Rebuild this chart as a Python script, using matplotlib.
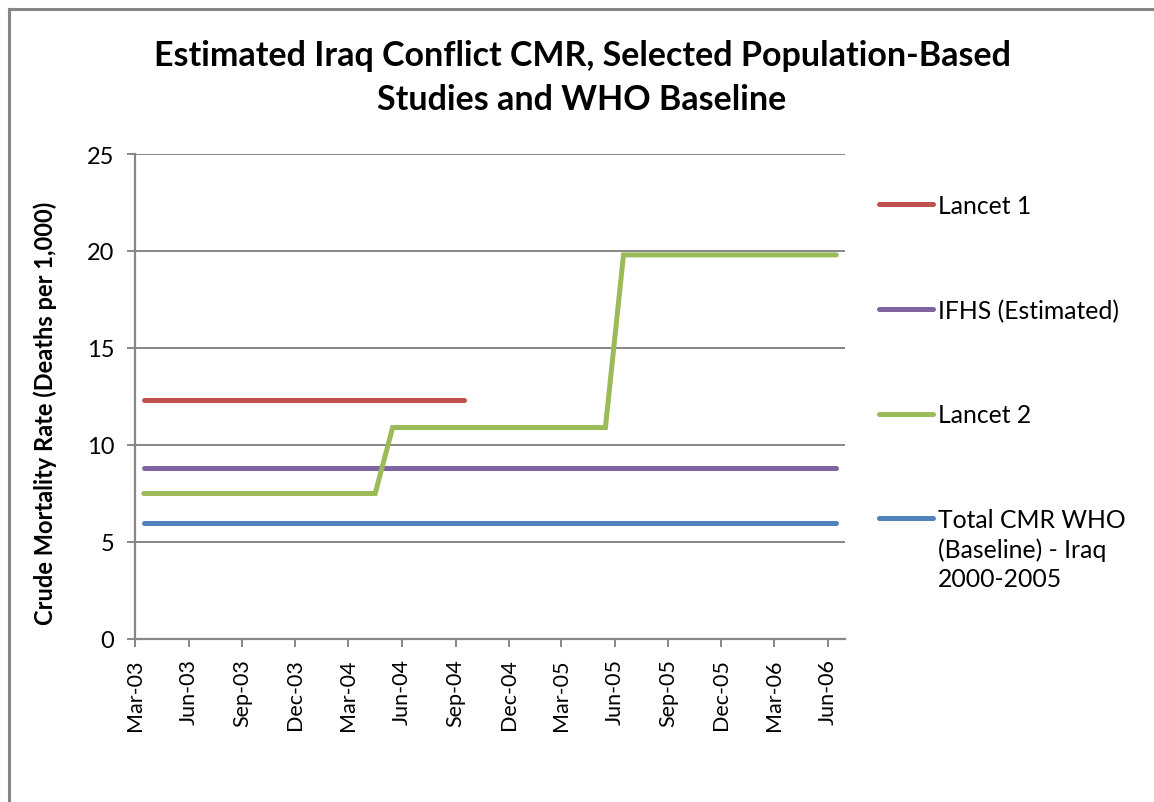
import matplotlib.pyplot as plt
import matplotlib.dates as mdates
import numpy as np
import pandas as pd
from matplotlib.lines import Line2D
from matplotlib.legend_handler import HandlerLine2D

plt.rcParams['font.family'] = ['Lato', 'DejaVu Sans']

# Monthly series, Mar-2003 .. Jun-2006 (plotted mid-month)
months = pd.date_range('2003-03-01', '2006-06-01', freq='MS') + pd.Timedelta(days=15)

lancet1_months = months[:19]                      # Mar-03 .. Sep-04
lancet1 = [12.3] * 19
ifhs = [8.8] * 40
lancet2 = [7.5] * 14 + [10.9] * 13 + [19.8] * 13  # Mar-03..Apr-04, May-04..May-05, Jun-05..Jun-06
who_baseline = [6.0] * 40

labels = ['Lancet 1', 'IFHS (Estimated)', 'Lancet 2',
          'Total CMR WHO\n(Baseline) - Iraq\n2000-2005']
colors = ['#C0504D', '#8064A2', '#9BBB59', '#4F81BD']

fig = plt.figure(figsize=(11.54, 8.03), dpi=100)
ax = fig.add_axes([135 / 1154, 1 - 640 / 803, 710 / 1154, 485 / 803])

lw = 3.6
l1, = ax.plot(lancet1_months, lancet1, color=colors[0], lw=lw, solid_capstyle='round', zorder=3)
l2, = ax.plot(months, ifhs, color=colors[1], lw=lw, solid_capstyle='round', zorder=3)
l3, = ax.plot(months, lancet2, color=colors[2], lw=lw, solid_capstyle='round',
              solid_joinstyle='miter', zorder=3)
l4, = ax.plot(months, who_baseline, color=colors[3], lw=lw, solid_capstyle='round', zorder=3)

ax.set_xlim(pd.Timestamp('2003-03-01'), pd.Timestamp('2006-07-01'))
ax.set_ylim(0, 25)
ax.set_yticks(np.arange(0, 26, 5))
ax.xaxis.set_major_locator(mdates.MonthLocator(bymonth=[3, 6, 9, 12]))
ax.xaxis.set_major_formatter(mdates.DateFormatter('%b-%y'))
ax.set_xticks([t for t in ax.get_xticks() if t <= mdates.date2num(pd.Timestamp('2006-06-01'))])

grid_c = '#868686'
ax.grid(axis='y', color=grid_c, lw=1.4)
ax.set_axisbelow(True)
for s in ['top', 'right']:
    ax.spines[s].set_visible(False)
for s in ['left', 'bottom']:
    ax.spines[s].set_color(grid_c)
    ax.spines[s].set_linewidth(1.6)
ax.tick_params(axis='both', colors=grid_c, length=6, width=1.4, labelcolor='black',
               labelsize=15.5)
ax.tick_params(axis='y', labelsize=17, pad=9)
ax.tick_params(axis='x', pad=8)
plt.setp(ax.get_xticklabels(), rotation=90, va='top', ha='center')

ax.set_ylabel('Crude Mortality Rate (Deaths per 1,000)', fontsize=17, fontweight='bold')
ax.yaxis.set_label_coords(-0.11, 0.468)

fig.text(582 / 1154, 1 - 78 / 803,
         'Estimated Iraq Conflict CMR, Selected Population-Based\nStudies and WHO Baseline',
         ha='center', va='center', fontsize=24.5, fontweight='bold', linespacing=1.48)


class FirstLineHandler(HandlerLine2D):
    """Puts the legend line beside the first line of a multi-line label."""
    def __init__(self, lift=0.0, **kw):
        super().__init__(**kw)
        self.lift = lift

    def create_artists(self, legend, orig_handle, xdescent, ydescent, width, height,
                       fontsize, trans):
        arts = super().create_artists(legend, orig_handle, xdescent, ydescent, width,
                                      height, fontsize, trans)
        for a in arts:
            a.set_ydata(np.asarray(a.get_ydata()) + self.lift * fontsize)
        return arts


leg = ax.legend([l1, l2, l3, l4], labels, loc='upper left',
                bbox_to_anchor=(879 / 1154, 1 - 195 / 803), bbox_transform=fig.transFigure,
                frameon=False, fontsize=17.8, handlelength=2.2, handletextpad=0.18,
                labelspacing=3.3, borderpad=0, borderaxespad=0,
                handler_map={l4: FirstLineHandler(lift=1.3)})
leg.get_texts()[3].set_linespacing(1.32)
for h in leg.legend_handles:
    h.set_solid_capstyle('round')

# chart area border
fig.add_artist(Line2D([9 / 1154, 9 / 1154], [0, 1 - 10 / 803], transform=fig.transFigure,
                      color=grid_c, lw=2.2))
fig.add_artist(Line2D([9 / 1154, 1], [1 - 10 / 803, 1 - 10 / 803], transform=fig.transFigure,
                      color=grid_c, lw=2.2))

fig.savefig('out.png', dpi=100)
